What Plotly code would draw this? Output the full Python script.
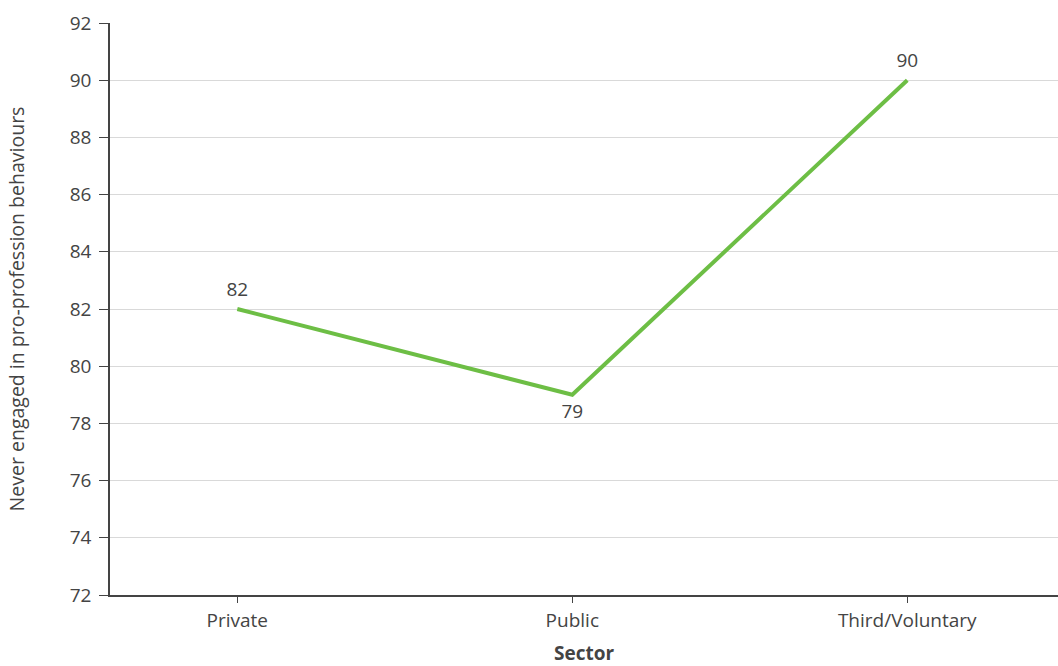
import plotly.graph_objects as go

sectors = ["Private", "Public", "Third/Voluntary"]
values = [82, 79, 90]
label_pos = ["top center", "bottom center", "top center"]

fig = go.Figure()
fig.add_trace(go.Scatter(
    x=sectors, y=values, mode="lines+markers+text",
    line=dict(color="#6dbe45", width=4),
    marker=dict(size=12, color="rgba(0,0,0,0)"),
    text=[str(v) for v in values], textposition=label_pos,
    textfont=dict(size=19, color="#444444"),
    hoverinfo="skip", showlegend=False,
))

fig.update_layout(
    width=1058, height=666,
    margin=dict(l=110, r=0, t=23, b=71, autoexpand=False),
    paper_bgcolor="white", plot_bgcolor="white",
    font=dict(family="Open Sans, sans-serif", color="#444444"),
)
fig.update_xaxes(
    range=[-0.38, 2.45], showgrid=False,
    showline=True, linecolor="#444444", linewidth=1.5,
    ticks="outside", ticklen=6, tickcolor="#444444",
    ticklabelstandoff=1,
    tickfont=dict(size=19, color="#444444"),
    title=dict(text="<b>Sector</b>", font=dict(size=19, color="#444444"), standoff=24),
)
fig.update_yaxes(
    range=[72, 92], dtick=2, showgrid=True, gridcolor="#d9d9d9", gridwidth=1,
    showline=True, linecolor="#444444", linewidth=1.5,
    ticks="outside", ticklen=9, tickcolor="#444444",
    ticklabelstandoff=4,
    tickfont=dict(size=19, color="#444444"),
    zeroline=False,
    title=dict(text="Never engaged in pro-profession behaviours", font=dict(size=19.5, color="#444444"), standoff=40),
)
fig.write_html("out.html", config={"displayModeBar": False},
               post_script="document.body.style.margin='0';document.body.style.overflow='hidden';")
